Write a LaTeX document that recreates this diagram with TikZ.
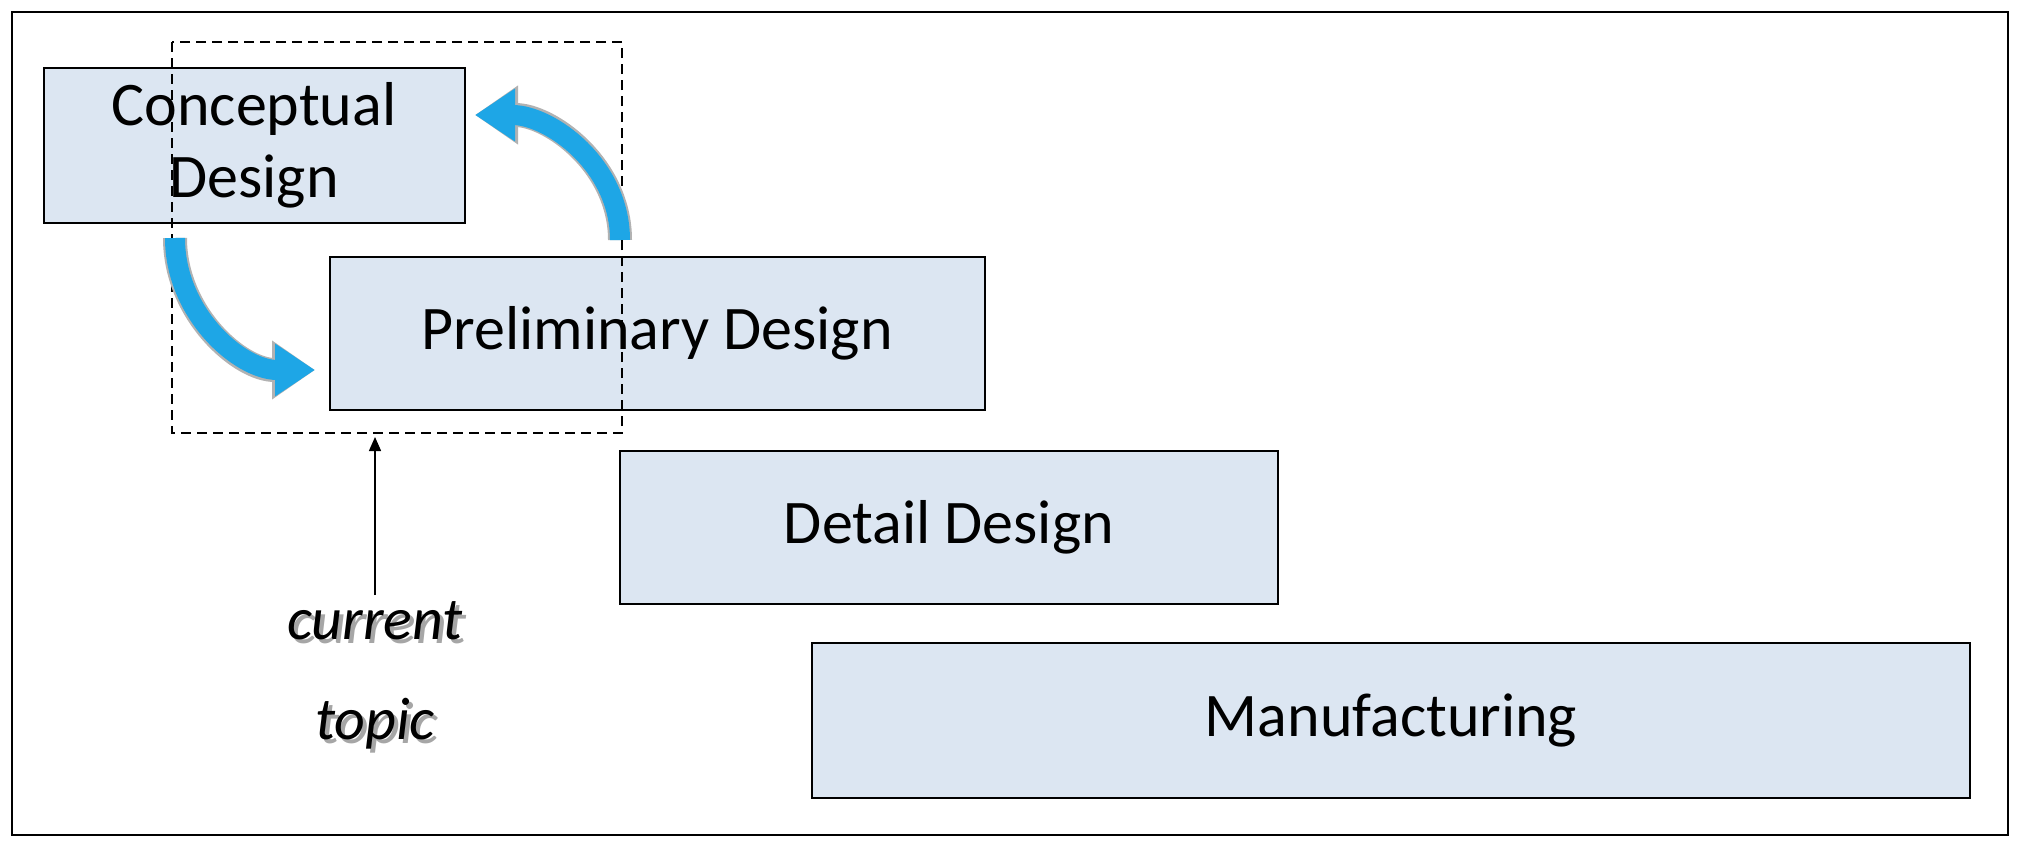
\documentclass[tikz,border=0pt]{standalone}
\usepackage{fontspec}
\setmainfont{Carlito}
\usetikzlibrary{arrows.meta}
\definecolor{boxfill}{HTML}{DCE6F2}
\definecolor{arrblue}{HTML}{1EA6E6}
\begin{document}
\begin{tikzpicture}[x=1pt,y=-1pt,
 box/.style={draw=black,line width=2pt,fill=boxfill,font=\fontsize{62}{72}\selectfont,align=center,inner sep=0pt},
 ctext/.style={font=\fontsize{60}{100}\selectfont\itshape,align=center},
 blue arr/.style={line width=20pt,draw=arrblue,-{Triangle[length=40pt,width=50pt]},preaction={draw=gray!60,line width=24pt,-{Triangle[length=43pt,width=56pt]}}}]
\useasboundingbox (0,0) rectangle (2020,847);
\draw[line width=2pt] (12,12) rectangle (2008,835);
\node[box,minimum width=655pt,minimum height=153pt] (pre) at (657,333) {Preliminary Design};
\node[box,minimum width=658pt,minimum height=153pt] (det) at (949,527) {Detail Design};
\node[box,minimum width=1158pt,minimum height=155pt] (man) at (1391,720) {Manufacturing};
\node[box,minimum width=421pt,minimum height=155pt] (con) at (254,145) {Conceptual\\Design};
\draw[dashed,line width=2pt,dash pattern=on 10pt off 6pt] (172,42) rectangle (622,433);
\coordinate (a1s) at (620,240);
\coordinate (a1e) at (475,115);
\draw[blue arr] (a1s) to[out=90,in=0,looseness=1.0] (a1e);
\coordinate (a2s) at (175,238);
\coordinate (a2e) at (315,370);
\draw[blue arr] (a2s) to[out=-90,in=180,looseness=1.0] (a2e);
\node[ctext,text=gray!70] at (379,679) {current\\topic};
\node[ctext] (cur) at (375,675) {current\\topic};
\coordinate (ct) at (375,437);
\draw[line width=1.5pt,-{Triangle[length=14pt,width=12pt]}] (375,595) -- (ct);
\end{tikzpicture}
\end{document}
